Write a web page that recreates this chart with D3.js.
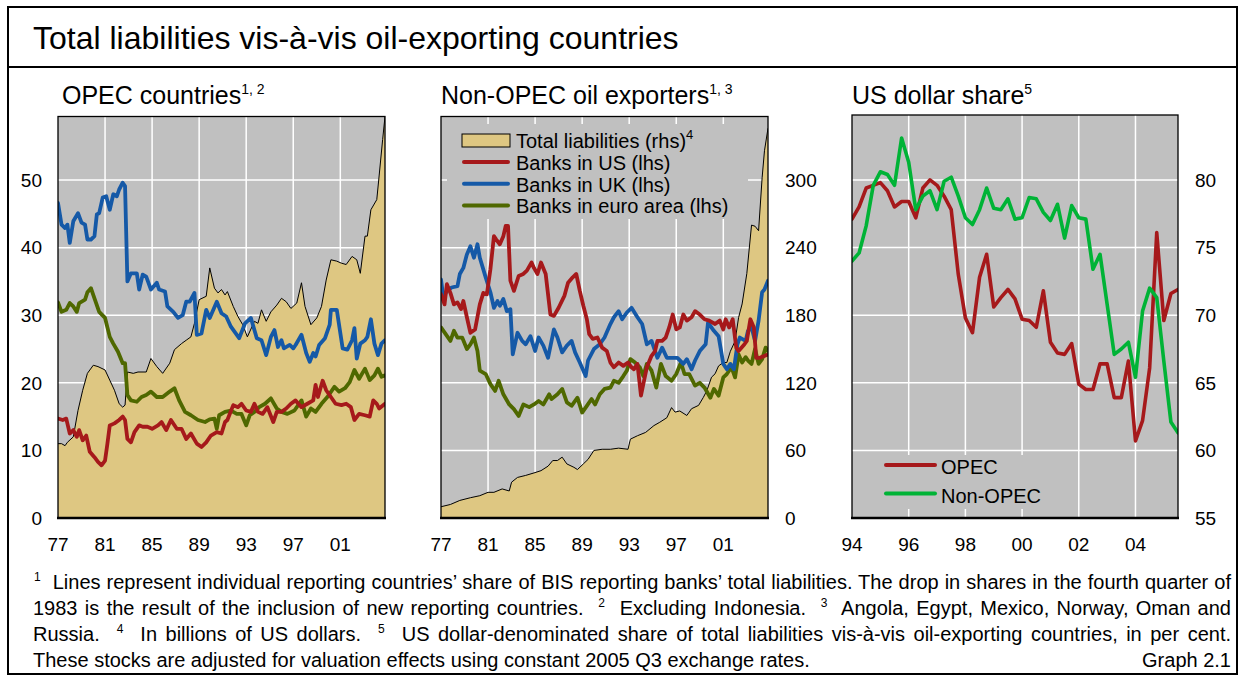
<!DOCTYPE html>
<html>
<head>
<meta charset="utf-8">
<script src="https://cdn.jsdelivr.net/npm/d3@7"></script>
<style>
body { margin: 0; background: #fff; }
svg { display: block; font-family: "Liberation Sans", Arial, sans-serif; }
</style>
</head>
<body>
<svg id="chart" width="1241" height="675"></svg>
<script>
// ---- data -----------------------------------------------------------------

// OPEC countries, shares in per cent (lhs); [year, value]
const opecUS = [[1977.0,14.7],[1977.4,14.5],[1977.7,14.7],[1978.0,12.5],[1978.3,13.0],[1978.6,12.0],[1978.8,13.0],[1979.1,11.5],[1979.4,12.2],[1979.7,9.8],[1980.1,9.0],[1980.4,8.3],[1980.7,7.8],[1981.0,8.5],[1981.2,11.0],[1981.4,13.7],[1981.8,14.0],[1982.2,14.5],[1982.5,15.0],[1982.7,14.5],[1982.9,11.7],[1983.2,11.2],[1983.5,12.7],[1983.9,13.7],[1984.2,13.5],[1984.6,13.5],[1985.0,13.2],[1985.5,13.7],[1985.8,14.2],[1986.2,13.0],[1986.6,14.5],[1987.1,13.2],[1987.5,13.2],[1987.9,11.7],[1988.3,12.5],[1988.8,11.0],[1989.2,10.5],[1989.6,11.2],[1990.0,12.2],[1990.5,12.7],[1990.9,12.5],[1991.2,14.2],[1991.4,14.5],[1991.9,16.7],[1992.3,16.4],[1992.6,16.9],[1993.0,15.9],[1993.4,15.7],[1993.7,16.9],[1994.0,15.7],[1994.4,15.4],[1994.8,16.4],[1995.3,14.2],[1995.6,15.7],[1996.0,15.7],[1996.4,16.2],[1996.8,16.9],[1997.2,17.4],[1997.7,16.4],[1998.2,16.9],[1998.7,17.4],[1998.9,19.7],[1999.1,17.9],[1999.5,20.3],[1999.8,18.9],[2000.2,17.9],[2000.6,16.9],[2001.1,16.7],[2001.5,16.9],[2001.9,16.4],[2002.2,14.5],[2002.6,15.4],[2003.1,15.2],[2003.5,15.0],[2003.8,17.4],[2004.1,16.9],[2004.3,16.2],[2004.8,16.9]]
const opecUK = [[1977.0,46.6],[1977.3,43.4],[1977.6,42.9],[1977.8,43.4],[1978.0,40.7],[1978.3,43.9],[1978.7,45.1],[1979.0,43.7],[1979.3,43.4],[1979.5,41.2],[1979.8,41.2],[1980.1,41.7],[1980.3,44.9],[1980.5,45.1],[1980.8,47.4],[1981.1,47.6],[1981.4,45.6],[1981.7,47.9],[1982.0,47.6],[1982.2,48.6],[1982.5,49.6],[1982.7,49.1],[1982.9,35.0],[1983.2,36.2],[1983.7,36.2],[1983.9,33.8],[1984.2,36.0],[1984.5,35.7],[1984.9,33.8],[1985.4,34.8],[1985.6,33.8],[1986.1,33.5],[1986.3,31.3],[1986.8,30.5],[1987.2,29.6],[1987.6,30.0],[1987.9,32.0],[1988.2,32.0],[1988.6,33.3],[1988.8,27.1],[1989.2,27.3],[1989.6,30.8],[1989.9,29.6],[1990.5,32.0],[1990.9,30.3],[1991.3,29.8],[1991.7,28.3],[1992.4,26.6],[1992.9,28.8],[1993.4,29.6],[1993.9,26.6],[1994.3,26.3],[1994.7,24.1],[1995.1,26.8],[1995.4,27.8],[1995.7,25.3],[1996.0,26.3],[1996.2,25.1],[1996.7,25.6],[1997.0,25.1],[1997.2,25.6],[1997.7,27.1],[1998.1,24.4],[1998.4,23.1],[1998.7,24.4],[1998.9,23.9],[1999.2,25.6],[1999.7,26.6],[2000.1,28.6],[2000.2,30.8],[2000.7,30.8],[2001.2,25.1],[2001.6,24.9],[2002.0,26.3],[2002.2,28.1],[2002.4,23.6],[2002.7,25.8],[2003.1,26.3],[2003.3,26.8],[2003.6,29.4],[2003.9,25.8],[2004.2,24.1],[2004.5,25.8],[2004.8,26.3]]
const opecEuro = [[1977.0,31.9],[1977.3,30.5],[1977.7,30.8],[1978.0,31.8],[1978.3,31.3],[1978.6,30.5],[1978.8,31.8],[1979.3,32.3],[1979.5,33.4],[1979.8,34.0],[1980.1,32.5],[1980.5,30.5],[1981.0,29.6],[1981.4,26.8],[1981.7,25.8],[1982.1,24.6],[1982.5,22.9],[1982.7,22.9],[1982.9,18.2],[1983.2,17.4],[1983.7,17.2],[1984.1,17.9],[1984.5,18.2],[1984.9,18.7],[1985.4,17.9],[1985.9,17.9],[1986.5,18.7],[1986.9,19.2],[1987.3,17.4],[1987.8,15.7],[1988.3,15.2],[1988.9,14.5],[1989.5,14.2],[1989.9,14.6],[1990.3,14.7],[1990.5,13.2],[1990.7,15.2],[1991.2,15.7],[1991.7,15.9],[1992.2,15.4],[1992.6,15.4],[1993.0,13.7],[1993.3,15.2],[1993.7,15.7],[1994.1,16.4],[1994.6,16.9],[1995.1,17.7],[1995.6,16.2],[1996.0,15.7],[1996.5,15.4],[1997.1,15.9],[1997.7,17.4],[1998.1,15.0],[1998.5,16.2],[1998.9,15.7],[1999.4,16.9],[1999.9,17.9],[2000.5,19.4],[2000.9,18.7],[2001.4,19.2],[2001.8,20.1],[2002.2,21.9],[2002.6,20.6],[2003.1,22.1],[2003.5,20.4],[2003.9,21.1],[2004.2,22.1],[2004.5,20.9],[2004.8,21.1]]
// OPEC total liabilities, drawn against an unlabelled scale (read in lhs units)
const opecTotal = [[1977.0,11.0],[1977.3,11.0],[1977.6,10.7],[1977.8,11.2],[1978.3,12.0],[1978.7,15.9],[1979.1,18.9],[1979.5,21.4],[1980.0,22.6],[1980.4,22.4],[1981.0,21.9],[1981.4,20.4],[1981.8,18.9],[1982.2,16.9],[1982.5,16.4],[1982.7,16.7],[1982.9,21.6],[1983.4,21.4],[1983.8,21.6],[1984.5,21.6],[1984.9,23.6],[1985.4,22.4],[1985.9,21.4],[1986.5,22.9],[1986.9,24.9],[1987.5,25.8],[1987.9,26.3],[1988.3,26.8],[1988.6,28.8],[1989.0,32.3],[1989.6,32.8],[1989.9,37.0],[1990.3,34.0],[1990.6,33.3],[1990.9,33.8],[1991.2,33.0],[1991.4,33.5],[1991.9,31.3],[1992.3,29.8],[1992.7,28.6],[1993.1,26.8],[1993.7,29.1],[1994.0,28.8],[1994.3,30.8],[1994.7,29.1],[1995.1,30.5],[1995.6,31.5],[1996.0,32.5],[1996.4,32.0],[1996.8,31.0],[1997.3,31.8],[1997.7,34.8],[1998.0,31.3],[1998.5,28.6],[1999.0,29.6],[1999.4,31.3],[1999.8,35.2],[2000.2,38.2],[2000.7,38.0],[2001.1,37.7],[2001.5,37.5],[2002.0,38.7],[2002.4,38.2],[2002.7,36.2],[2003.1,41.7],[2003.3,41.7],[2003.6,45.6],[2004.1,47.1],[2004.3,50.6],[2004.6,56.0],[2004.8,59.4]]

// Non-OPEC oil exporters, shares in per cent (lhs); [year, value]
const nonUS = [[1977.0,33.1],[1977.3,31.6],[1977.5,34.6],[1977.8,33.3],[1978.1,31.6],[1978.4,31.9],[1978.7,30.9],[1978.9,32.1],[1979.2,29.7],[1979.5,27.4],[1979.9,27.9],[1980.3,31.6],[1980.6,33.3],[1980.9,33.1],[1981.2,36.8],[1981.5,41.7],[1981.7,41.2],[1982.0,40.5],[1982.3,41.7],[1982.5,43.2],[1982.7,43.2],[1982.9,35.1],[1983.2,33.6],[1983.6,35.8],[1984.0,36.1],[1984.3,36.6],[1984.7,37.8],[1984.9,37.0],[1985.2,36.1],[1985.5,37.8],[1985.9,36.1],[1986.3,30.1],[1986.6,29.9],[1987.0,31.1],[1987.5,32.9],[1987.8,34.8],[1988.2,35.6],[1988.5,36.1],[1988.8,33.6],[1989.1,31.4],[1989.4,29.4],[1989.6,27.2],[1989.9,26.5],[1990.3,26.7],[1990.7,25.2],[1991.1,24.7],[1991.4,23.0],[1991.7,22.3],[1992.1,23.0],[1992.5,22.5],[1992.9,23.0],[1993.2,22.3],[1993.4,22.0],[1993.7,22.8],[1994.0,18.1],[1994.2,19.8],[1994.5,22.3],[1994.9,24.0],[1995.2,24.7],[1995.4,26.2],[1995.8,26.2],[1996.1,26.7],[1996.4,28.2],[1996.7,30.1],[1997.0,27.9],[1997.3,28.2],[1997.6,30.1],[1997.9,29.2],[1998.3,29.7],[1998.6,30.6],[1999.0,30.1],[1999.4,29.4],[1999.8,29.2],[2000.3,28.7],[2000.7,29.2],[2001.0,27.9],[2001.2,29.4],[2001.5,28.2],[2001.8,29.4],[2002.1,25.2],[2002.3,24.7],[2002.8,25.7],[2003.0,26.2],[2003.3,29.4],[2003.6,28.2],[2003.8,23.7],[2004.1,23.7],[2004.8,24.2]]
const nonUK = [[1977.0,35.3],[1977.2,32.6],[1977.5,33.6],[1977.9,34.1],[1978.4,34.3],[1978.6,36.1],[1978.9,37.0],[1979.2,39.0],[1979.5,40.2],[1979.8,38.5],[1980.1,40.5],[1980.3,38.5],[1980.8,35.6],[1981.2,33.4],[1981.5,31.1],[1981.8,32.1],[1982.0,31.4],[1982.3,32.4],[1982.6,30.6],[1982.9,30.9],[1983.1,24.2],[1983.5,27.4],[1983.9,26.2],[1984.2,25.7],[1984.6,26.9],[1985.0,24.7],[1985.3,26.7],[1985.7,25.5],[1986.1,23.7],[1986.6,27.9],[1986.9,26.7],[1987.3,24.5],[1987.7,25.5],[1988.1,26.2],[1988.4,24.5],[1988.8,23.0],[1989.3,21.0],[1989.5,23.3],[1990.0,25.0],[1990.5,25.7],[1990.9,26.7],[1991.4,28.7],[1991.7,29.7],[1992.1,30.6],[1992.4,29.4],[1992.8,30.4],[1993.2,31.1],[1993.7,29.7],[1994.1,28.7],[1994.5,25.7],[1994.9,26.2],[1995.4,23.7],[1995.8,25.2],[1996.2,23.7],[1996.6,23.7],[1997.1,23.7],[1997.6,22.8],[1997.9,23.5],[1998.3,22.0],[1998.6,23.3],[1999.0,24.7],[1999.5,25.7],[1999.7,28.9],[2000.2,27.7],[2000.6,26.9],[2001.0,22.8],[2001.3,22.0],[2001.6,22.8],[2001.9,22.0],[2002.2,25.7],[2002.4,26.7],[2002.9,26.2],[2003.1,27.7],[2003.4,28.2],[2003.7,26.2],[2004.0,29.2],[2004.3,33.4],[2004.5,33.8],[2004.8,35.1]]
const nonEuro = [[1977.0,28.2],[1977.4,27.2],[1977.8,26.2],[1978.1,27.7],[1978.4,26.7],[1978.8,26.7],[1979.2,25.0],[1979.5,25.7],[1979.8,26.7],[1980.1,24.7],[1980.3,21.8],[1980.8,21.3],[1981.2,19.8],[1981.6,18.8],[1981.9,20.3],[1982.3,18.3],[1982.8,16.8],[1983.2,16.1],[1983.6,15.1],[1984.0,16.8],[1984.5,16.4],[1984.9,16.8],[1985.3,17.3],[1985.7,16.8],[1986.2,18.3],[1986.4,17.6],[1986.9,18.3],[1987.3,19.1],[1987.7,17.1],[1988.1,16.6],[1988.6,17.8],[1989.0,15.6],[1989.4,16.6],[1989.8,17.6],[1990.1,16.8],[1990.5,18.3],[1990.9,19.1],[1991.4,19.3],[1991.7,20.3],[1992.1,20.0],[1992.5,21.0],[1992.8,21.8],[1993.1,23.5],[1993.5,23.0],[1993.9,22.3],[1994.2,21.0],[1994.5,22.8],[1994.9,21.8],[1995.3,19.3],[1995.7,22.8],[1996.1,21.0],[1996.6,20.3],[1997.0,21.3],[1997.4,23.0],[1997.7,21.3],[1998.1,21.3],[1998.6,19.6],[1999.0,20.0],[1999.4,19.3],[1999.9,17.8],[2000.2,19.1],[2000.6,18.1],[2001.0,20.8],[2001.3,21.3],[2001.7,22.3],[2002.0,20.8],[2002.3,24.2],[2002.6,23.0],[2002.9,23.8],[2003.1,23.3],[2003.4,22.8],[2003.7,25.0],[2004.0,22.8],[2004.3,23.5],[2004.6,25.2],[2004.8,24.7]]
// Non-OPEC total liabilities, billions of US dollars (rhs)
const nonTotal = [[1977.0,10],[1977.8,12],[1978.6,15.6],[1979.5,18],[1980.3,19.8],[1981.0,22.8],[1981.5,22.8],[1982.2,25.8],[1982.8,24],[1983.0,31.8],[1983.5,36],[1984.2,37.8],[1984.9,40],[1985.5,42],[1986.1,46],[1986.5,51],[1986.9,51],[1987.3,54],[1987.7,48],[1988.3,45],[1988.6,43],[1989.1,48],[1989.5,52],[1990.0,60],[1990.7,61],[1991.4,61],[1992.1,62],[1992.9,61],[1993.1,70],[1993.7,73],[1994.4,76],[1995.1,82],[1995.6,85],[1996.2,89],[1996.6,98],[1996.9,94],[1997.3,95],[1997.9,91],[1998.3,97],[1998.9,100],[1999.3,107],[1999.6,113],[2000.0,125],[2000.3,128],[2000.6,135],[2001.0,138],[2001.3,138],[2001.6,148],[2002.0,157],[2002.3,178],[2002.6,190],[2003.0,217],[2003.4,260],[2003.7,259],[2004.0,255],[2004.3,302],[2004.5,326],[2004.8,346]]

// US dollar share, quarterly from 1994 Q1, per cent
const usdStart = 1994
const usdOPEC = [77.1,78.0,79.4,79.6,79.8,79.2,78.0,78.4,78.4,77.2,79.4,80.0,79.6,78.8,77.8,73.0,69.8,68.7,72.8,74.5,70.6,71.3,71.9,71.2,69.7,69.6,69.1,71.8,68.0,67.2,67.1,67.9,64.9,64.5,64.5,66.4,66.4,63.9,63.9,66.6,60.7,62.2,66.1,76.1,69.6,71.6,71.9]
const usdNonOPEC = [74.0,74.6,76.6,79.6,80.6,80.4,79.6,83.1,81.3,77.8,78.8,79.2,77.8,79.9,80.2,78.8,77.2,76.7,77.8,79.4,77.9,77.8,78.6,77.1,77.2,78.7,78.6,77.6,77.0,78.2,75.7,78.1,77.2,77.1,73.4,74.5,70.8,67.1,67.5,68.0,65.4,70.3,72.0,71.3,66.6,62.1,61.3]

// ticks
const yearTicks = [1977, 1981, 1985, 1989, 1993, 1997, 2001]
const lhsTicks = [0, 10, 20, 30, 40, 50]
const rhsTicks = [0, 60, 120, 180, 240, 300]
const usdYearTicks = [1994, 1996, 1998, 2000, 2002, 2004]
const usdTicks = [55, 60, 65, 70, 75, 80]

// ---- drawing --------------------------------------------------------------

const RED = "#a6191b", BLUE = "#1559a7", OLIVE = "#4f6800", GREEN = "#00b336"
const TAN = "#dec782", BG = "#c0c0c0"

const svg = d3.select("#chart")
const yy = d => d3.format("02d")(d % 100)

// frame + title
svg.append("rect").attr("x", 8).attr("y", 7).attr("width", 1229).attr("height", 667)
    .attr("fill", "none").attr("stroke", "#000").attr("stroke-width", 2)
svg.append("line").attr("x1", 8).attr("x2", 1237).attr("y1", 67).attr("y2", 67)
    .attr("stroke", "#000").attr("stroke-width", 2)
svg.append("text").attr("x", 33).attr("y", 49).style("font-size", "32px")
    .text("Total liabilities vis-à-vis oil-exporting countries")

function panelTitle(x, label, sup) {
    const t = svg.append("text").attr("x", x).attr("y", 104).style("font-size", "25px")
    t.append("tspan").text(label)
    t.append("tspan").attr("dy", -10).style("font-size", "14px").text(sup)
}

function makePanel(id, box, xDomain, yDomain) {
    const x = d3.scaleLinear().domain(xDomain).range([box.x0, box.x1])
    const y = d3.scaleLinear().domain(yDomain).range([box.y1, box.y0])
    svg.append("clipPath").attr("id", id).append("rect")
        .attr("x", box.x0).attr("y", box.y0).attr("width", box.x1 - box.x0).attr("height", box.y1 - box.y0)
    svg.append("rect").attr("x", box.x0).attr("y", box.y0)
        .attr("width", box.x1 - box.x0).attr("height", box.y1 - box.y0).attr("fill", BG)
    const g = svg.append("g").attr("clip-path", `url(#${id})`)
    return { x, y, g, box }
}

function grid(p, xt, yt, yScale) {
    const ys = yScale || p.y
    p.g.selectAll(null).data(xt.filter(d => p.x(d) > p.box.x0 + 2)).enter().append("line")
        .attr("x1", d => p.x(d)).attr("x2", d => p.x(d)).attr("y1", p.box.y0).attr("y2", p.box.y1)
        .attr("stroke", "#fff").attr("stroke-width", 1.5)
    p.g.selectAll(null).data(yt.filter(d => ys(d) < p.box.y1 - 2)).enter().append("line")
        .attr("y1", d => ys(d)).attr("y2", d => ys(d)).attr("x1", p.box.x0).attr("x2", p.box.x1)
        .attr("stroke", "#fff").attr("stroke-width", 1.5)
}

function frame(p) {
    const b = p.box
    svg.append("rect").attr("x", b.x0).attr("y", b.y0).attr("width", b.x1 - b.x0).attr("height", b.y1 - b.y0)
        .attr("fill", "none").attr("stroke", "#000").attr("stroke-width", 1.3)
    svg.append("line").attr("x1", b.x0 - 1).attr("x2", b.x1 + 1).attr("y1", b.y1).attr("y2", b.y1)
        .attr("stroke", "#000").attr("stroke-width", 2.5)
}

function xLabels(p, ticks, fmt) {
    svg.selectAll(null).data(ticks).enter().append("text")
        .attr("x", d => p.x(d)).attr("y", 551).attr("text-anchor", "middle")
        .style("font-size", "19px").text(fmt)
}

function yLabels(p, ticks, scale, xPos, anchor) {
    svg.selectAll(null).data(ticks).enter().append("text")
        .attr("x", xPos).attr("y", d => scale(d)).attr("dy", "0.36em").attr("text-anchor", anchor)
        .style("font-size", "19px").text(d => d)
}

function area(p, data, ys) {
    const a = d3.area().x(d => p.x(d[0])).y0(p.box.y1).y1(d => ys(d[1]))
    const l = d3.line().x(d => p.x(d[0])).y(d => ys(d[1]))
    p.g.append("path").attr("d", a(data)).attr("fill", TAN)
    p.g.append("path").attr("d", l(data)).attr("fill", "none").attr("stroke", "#000").attr("stroke-width", 1)
}

function series(p, data, color, w) {
    const l = d3.line().x(d => p.x(d[0])).y(d => p.y(d[1]))
    p.g.append("path").attr("d", l(data)).attr("fill", "none").attr("stroke", color)
        .attr("stroke-width", w || 3.8).attr("stroke-linejoin", "round").attr("stroke-linecap", "round")
}

// panel 1: OPEC
const p1 = makePanel("c1", { x0: 58, x1: 385, y0: 116.5, y1: 518 }, [1977, 2004.8], [0, 59.4])
grid(p1, yearTicks, lhsTicks)
area(p1, opecTotal, p1.y)
series(p1, opecEuro, OLIVE)
series(p1, opecUS, RED)
series(p1, opecUK, BLUE)
frame(p1)
xLabels(p1, yearTicks, yy)
yLabels(p1, lhsTicks, p1.y, 42, "end")
panelTitle(62, "OPEC countries", "1, 2")

// panel 2: non-OPEC
const p2 = makePanel("c2", { x0: 441, x1: 768, y0: 116.5, y1: 518 }, [1977, 2004.8], [0, 59.4])
const rhs2 = d3.scaleLinear().domain([0, 59.4 * 6]).range([518, 116.5])
grid(p2, yearTicks, rhsTicks, rhs2)
area(p2, nonTotal, rhs2)
series(p2, nonEuro, OLIVE)
series(p2, nonUK, BLUE)
series(p2, nonUS, RED)
frame(p2)
xLabels(p2, yearTicks, yy)
yLabels(p2, rhsTicks, rhs2, 785, "start")
panelTitle(441, "Non-OPEC oil exporters", "1, 3")

// legend panel 2
const lg2 = svg.append("g")
lg2.append("rect").attr("x", 447).attr("y", 124).attr("width", 301).attr("height", 95).attr("fill", BG)
lg2.append("rect").attr("x", 462).attr("y", 134).attr("width", 48).attr("height", 13)
    .attr("fill", TAN).attr("stroke", "#000").attr("stroke-width", 1)
const lt = lg2.append("text").attr("x", 516).attr("y", 148).style("font-size", "20px")
lt.append("tspan").text("Total liabilities (rhs)")
lt.append("tspan").attr("dy", -9).style("font-size", "13px").text("4")
const legendLines = [["Banks in US (lhs)", RED], ["Banks in UK (lhs)", BLUE], ["Banks in euro area (lhs)", OLIVE]]
legendLines.forEach((d, i) => {
    const cy = 162 + i * 21.7
    lg2.append("line").attr("x1", 464).attr("x2", 508).attr("y1", cy).attr("y2", cy)
        .attr("stroke", d[1]).attr("stroke-width", 4).attr("stroke-linecap", "round")
    lg2.append("text").attr("x", 516).attr("y", cy + 8).style("font-size", "20px").text(d[0])
})

// panel 3: US dollar share
const p3 = makePanel("c3", { x0: 852, x1: 1178, y0: 115, y1: 518 }, [1994, 2005.5], [55, 84.8])
grid(p3, usdYearTicks, usdTicks)
const lg3 = p3.g.append("g")
lg3.append("rect").attr("x", 853).attr("y", 455).attr("width", 212).attr("height", 54).attr("fill", BG)
const toPairs = vals => vals.map((v, i) => [usdStart + i / 4, v])
series(p3, toPairs(usdOPEC), RED, 3.6)
series(p3, toPairs(usdNonOPEC), GREEN, 3.6)
frame(p3)
xLabels(p3, usdYearTicks, yy)
yLabels(p3, usdTicks, p3.y, 1195, "start")
panelTitle(852, "US dollar share", "5")
const legend3 = [["OPEC", RED], ["Non-OPEC", GREEN]]
legend3.forEach((d, i) => {
    const cy = 465 + i * 28.5
    svg.append("line").attr("x1", 886).attr("x2", 935).attr("y1", cy).attr("y2", cy)
        .attr("stroke", d[1]).attr("stroke-width", 4).attr("stroke-linecap", "round")
    svg.append("text").attr("x", 941).attr("y", cy + 9).style("font-size", "20px").text(d[0])
})

// ---- footnotes ------------------------------------------------------------
const notes = [
    { x: 34, y: 589, justify: true, segs: [["1", 1], ["  Lines represent individual reporting countries’ share of BIS reporting banks’ total liabilities. The drop in shares in the fourth quarter of"]] },
    { x: 33, y: 615, justify: true, segs: [["1983 is the result of the inclusion of new reporting countries.  "], ["2", 1], ["  Excluding Indonesia.  "], ["3", 1], ["  Angola, Egypt, Mexico, Norway, Oman and"]] },
    { x: 33, y: 641, justify: true, segs: [["Russia.  "], ["4", 1], ["  In billions of US dollars.  "], ["5", 1], ["  US dollar-denominated share of total liabilities vis-à-vis oil-exporting countries, in per cent."]] },
    { x: 33, y: 667, justify: false, segs: [["These stocks are adjusted for valuation effects using constant 2005 Q3 exchange rates."]] }
]
const rightEdge = 1231
notes.forEach(n => {
    const t = svg.append("text").attr("x", n.x).attr("y", n.y).style("font-size", "20px").style("white-space", "pre")
    let raised = false
    n.segs.forEach(s => {
        const ts = t.append("tspan").text(s[0])
        if (s[1]) { ts.attr("dy", -8).style("font-size", "12px"); raised = true }
        else if (raised) { ts.attr("dy", 8); raised = false }
    })
    if (n.justify) {
        const len = t.node().getComputedTextLength()
        const spaces = (t.text().match(/ /g) || []).length
        t.attr("word-spacing", (rightEdge - n.x - len) / spaces)
    }
})
svg.append("text").attr("x", rightEdge).attr("y", 667).attr("text-anchor", "end")
    .style("font-size", "20px").text("Graph 2.1")
</script>
</body>
</html>
